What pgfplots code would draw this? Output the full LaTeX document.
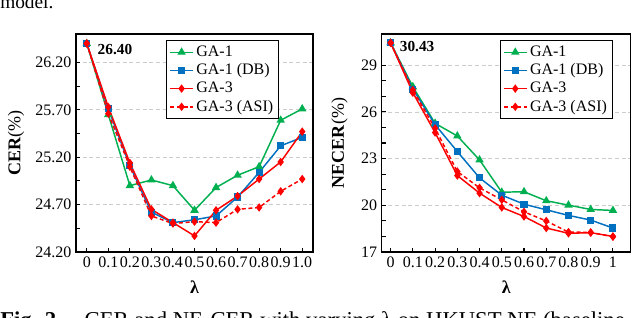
\documentclass[border=0pt]{standalone}
\usepackage{fontspec}
\setmainfont{Liberation Serif}
\usepackage{pgfplots}
\pgfplotsset{compat=1.18}

\definecolor{cgreen}{RGB}{0,176,80}
\definecolor{cblue}{RGB}{0,112,192}
\definecolor{cred}{RGB}{255,0,0}

\pgfplotsset{
  common/.style={
    scale only axis,
    height=163.5pt,
    xtick={0,0.1,0.2,0.3,0.4,0.5,0.6,0.7,0.8,0.9,1.0},
    tick align=inside,
    xtick pos=bottom, ytick pos=left,
    ymajorgrids,
    grid style={densely dashed, black!20, line width=0.5pt},
    axis line style={line width=0.9pt},
    major tick length=3pt, minor tick length=3pt,
    tick style={black, line width=0.8pt},
    ticklabel style={font=\fontsize{12}{14}\selectfont},
    /pgf/number format/assume math mode=true,
    label style={font=\fontsize{13.5}{16}\selectfont},
    xlabel={\textbf{λ}},
    xlabel style={at={(axis description cs:0.5,-0.16)}, anchor=center},
    legend style={draw=black, line width=0.8pt, fill=white,
      font=\fontsize{12}{13.5}\selectfont, anchor=north east,
      cells={anchor=west}, inner sep=2pt},
    legend cell align=left,
    every axis plot/.append style={line width=1.1pt},
  },
  ga1/.style={cgreen, mark=triangle*, mark size=2.6pt, mark options={solid}},
  ga1db/.style={cblue, mark=square*, mark size=2.1pt, mark options={solid}},
  ga3/.style={cred, mark=diamond*, mark size=2.3pt, mark options={solid}},
  ga3asi/.style={cred, densely dashed, mark=diamond*, mark size=2.3pt, mark options={solid}},
}

\begin{document}
\begin{tikzpicture}
\useasboundingbox (0,0) rectangle (480pt,238.5pt);
\clip (0,0) rectangle (480pt,238.5pt);

\node[anchor=base west, inner sep=0, font=\fontsize{14.5}{16}\selectfont] at (0,231.75pt) {model.};
\node[anchor=base west, inner sep=0, font=\fontsize{17}{19}\selectfont] at (0,-7.5pt) {\textbf{Fig. 2.}\quad CER and NE-CER with varying λ on HKUST-NE (baseline};

\begin{axis}[common,
  at={(57pt,49.5pt)}, anchor=south west,
  width=177.75pt,
  xmin=-0.05, xmax=1.05,
  ymin=24.2, ymax=26.5,
  xticklabels={0,0.1,0.2,0.3,0.4,0.5,0.6,0.7,0.8,0.9,1.0},
  ytick={24.2,24.7,25.2,25.7,26.2},
  minor y tick num=1,
  yticklabel style={/pgf/number format/.cd, fixed, fixed zerofill, precision=2},
  ylabel={\textbf{CER}(\%)},
  ylabel style={at={(axis description cs:-0.253,0.5)}, anchor=center},
  legend style={at={(0.857,0.972)}},
]
\addplot[ga1] coordinates {(0,26.40)(0.1,25.65)(0.2,24.90)(0.3,24.96)(0.4,24.90)(0.5,24.64)(0.6,24.88)(0.7,25.01)(0.8,25.10)(0.9,25.59)(1.0,25.71)};
\addlegendentry{GA-1}
\addplot[ga1db] coordinates {(0,26.40)(0.1,25.71)(0.2,25.11)(0.3,24.62)(0.4,24.51)(0.5,24.54)(0.6,24.58)(0.7,24.78)(0.8,25.04)(0.9,25.32)(1.0,25.41)};
\addlegendentry{GA-1 (DB)}
\addplot[ga3] coordinates {(0,26.40)(0.1,25.73)(0.2,25.14)(0.3,24.65)(0.4,24.51)(0.5,24.37)(0.6,24.64)(0.7,24.79)(0.8,24.97)(0.9,25.15)(1.0,25.47)};
\addlegendentry{GA-3}
\addplot[ga3asi] coordinates {(0,26.40)(0.1,25.66)(0.2,25.10)(0.3,24.58)(0.4,24.50)(0.5,24.52)(0.6,24.51)(0.7,24.65)(0.8,24.67)(0.9,24.84)(1.0,24.97)};
\addlegendentry{GA-3 (ASI)}
\node[anchor=west, inner sep=0, xshift=8pt, yshift=-4.5pt, font=\bfseries\fontsize{11.5}{13}\selectfont] at (axis cs:0,26.40) {26.40};
\end{axis}

\begin{axis}[common,
  at={(286.3pt,49.5pt)}, anchor=south west,
  width=186.75pt,
  xmin=-0.04, xmax=1.08,
  ymin=17, ymax=31,
  xticklabels={0,0.1,0.2,0.3,0.4,0.5,0.6,0.7,0.8,0.9,1},
  ytick={17,20,23,26,29},
  minor y tick num=2,
  ylabel={\textbf{NECER}(\%)},
  ylabel style={at={(axis description cs:-0.169,0.5)}, anchor=center},
  legend style={at={(0.928,0.972)}},
]
\addplot[ga1] coordinates {(0,30.43)(0.1,27.61)(0.2,25.26)(0.3,24.45)(0.4,22.91)(0.5,20.84)(0.6,20.87)(0.7,20.29)(0.8,20.01)(0.9,19.73)(1.0,19.67)};
\addlegendentry{GA-1}
\addplot[ga1db] coordinates {(0,30.43)(0.1,27.46)(0.2,25.18)(0.3,23.45)(0.4,21.76)(0.5,20.65)(0.6,20.07)(0.7,19.71)(0.8,19.35)(0.9,19.05)(1.0,18.54)};
\addlegendentry{GA-1 (DB)}
\addplot[ga3] coordinates {(0,30.43)(0.1,27.23)(0.2,24.67)(0.3,21.91)(0.4,20.78)(0.5,19.86)(0.6,19.28)(0.7,18.54)(0.8,18.20)(0.9,18.24)(1.0,18.00)};
\addlegendentry{GA-3}
\addplot[ga3asi] coordinates {(0,30.43)(0.1,27.40)(0.2,24.94)(0.3,22.17)(0.4,21.12)(0.5,20.35)(0.6,19.58)(0.7,18.99)(0.8,18.28)(0.9,18.26)(1.0,17.98)};
\addlegendentry{GA-3 (ASI)}
\node[anchor=west, inner sep=0, xshift=6.75pt, yshift=-2.5pt, font=\bfseries\fontsize{11.5}{13}\selectfont] at (axis cs:0,30.43) {30.43};
\end{axis}
\end{tikzpicture}
\end{document}
